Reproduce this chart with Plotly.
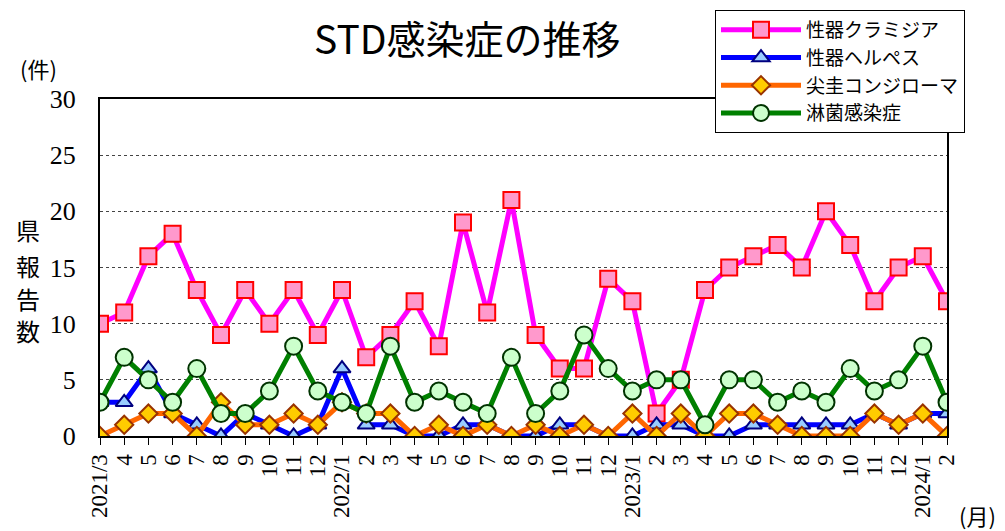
import plotly.graph_objects as go

months = ["2021/3","4","5","6","7","8","9","10","11","12",
          "2022/1","2","3","4","5","6","7","8","9","10","11","12",
          "2023/1","2","3","4","5","6","7","8","9","10","11","12",
          "2024/1","2"]
chlamydia = [10,11,16,18,13,9,13,10,13,9,13,7,9,12,8,19,11,21,9,6,6,14,12,2,5,13,15,16,17,15,20,17,12,15,16,12]
herpes = [3,3,6,2,1,0,2,1,0,1,6,1,1,0,0,1,1,0,0,1,1,0,0,1,1,0,0,1,1,1,1,1,2,1,2,2]
condyloma = [0,1,2,2,0,3,1,1,2,1,3,2,2,0,1,0,1,0,1,0,1,0,2,0,2,0,2,2,1,0,0,0,2,1,2,0]
gonorrhea = [3,7,5,3,6,2,2,4,8,4,3,2,8,3,4,3,2,7,2,4,9,6,4,5,5,1,5,5,3,4,3,6,4,5,8,3]

names = ["性器クラミジア", "性器ヘルペス", "尖圭コンジローマ", "淋菌感染症"]
series = [chlamydia, herpes, condyloma, gonorrhea]
line_colors = ["#FF00FF", "#0000FF", "#FF6600", "#008000"]
symbols = ["square", "triangle-up", "diamond", "circle"]
fills = ["#FF99CC", "#99CCFF", "#FFCC00", "#CCFFCC"]
borders = ["#FF0000", "#000080", "#993300", "#003300"]
sizes = [16, 15, 14, 17]

x = list(range(len(months)))
fig = go.Figure()
for n, s, lc, sym, fc, bc, sz in zip(names, series, line_colors, symbols, fills, borders, sizes):
    fig.add_trace(go.Scatter(
        x=x, y=s, name=n, mode="lines+markers",
        line=dict(color=lc, width=5),
        marker=dict(symbol=sym, size=sz, color=fc, line=dict(color=bc, width=2)),
    ))

serif = "Liberation Serif, Noto Sans CJK JP, serif"
cjk = "Noto Sans CJK JP"
OFF = 8  # page body margin
FIG_W, FIG_H = 997, 523
L, R, T, B = 100 - OFF, 947 - OFF, 99 - OFF, 436 - OFF
W_PLOT, H_PLOT = R - L, B - T


def px(xs):
    return (xs - OFF - L) / W_PLOT


def py(ys):
    return (B - (ys - OFF)) / H_PLOT


annotations = [
    dict(text="STD感染症の推移", x=px(467), y=py(37), size=39),
    dict(text="(件)", x=px(38), y=py(68), size=22),
    dict(text="(月)", x=px(977), y=py(515), size=22),
]
for ch, yy in zip("県報告数", [229, 265, 298, 330]):
    annotations.append(dict(text=ch, x=px(28), y=py(yy), size=24))

ann = [dict(text=a["text"], xref="paper", yref="paper", x=a["x"], y=a["y"],
            xanchor="center", yanchor="middle", showarrow=False,
            font=dict(family=cjk, size=a["size"], color="black")) for a in annotations]

fig.update_layout(
    width=FIG_W, height=FIG_H,
    margin=dict(l=L, r=FIG_W - R, t=T, b=FIG_H - B, autoexpand=False),
    paper_bgcolor="white", plot_bgcolor="white",
    showlegend=True,
    legend=dict(
        x=px(715), y=py(10), xanchor="left", yanchor="top",
        bgcolor="white", bordercolor="black", borderwidth=1,
        font=dict(family=cjk, size=19, color="black"),
        tracegroupgap=0, itemwidth=80,
    ),
    xaxis=dict(
        range=[0, 35], tickmode="array", tickvals=x, ticktext=months,
        tickangle=-90, ticks="outside", ticklen=7, tickcolor="black", tickwidth=1,
        showline=True, linecolor="black", linewidth=2, mirror=True,
        showgrid=False, zeroline=False,
        tickfont=dict(family=serif, size=23, color="black"),
    ),
    yaxis=dict(
        range=[0, 30], dtick=5, ticks="",
        showline=True, linecolor="black", linewidth=2, mirror=True,
        showgrid=True, gridcolor="#444444", griddash="dot", gridwidth=1,
        zeroline=False, ticklabelstandoff=17,
        tickfont=dict(family=serif, size=26, color="black"),
    ),
    annotations=ann,
)

fig.write_html("out.html")
